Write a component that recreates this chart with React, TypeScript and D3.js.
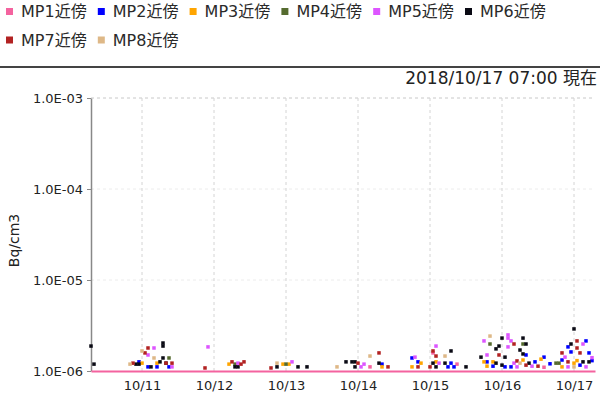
//@ts-nocheck
import React, { useRef, useEffect } from 'react'
import * as d3 from 'd3'

const seriesNames = ['MP1近傍', 'MP2近傍', 'MP3近傍', 'MP4近傍', 'MP5近傍', 'MP6近傍', 'MP7近傍', 'MP8近傍']
const seriesColors = ['#f4639f', '#0000ff', '#ffa500', '#556b2f', '#dd55ff', '#0a0a14', '#b22222', '#deb887']

const mp1 = [
  ['10/14 04:00', 1.11e-6], ['10/15 01:00', 1.58e-6], ['10/15 09:00', 1.19e-6], ['10/16 14:00', 1.1e-6]
]
const mp2 = [
  ['10/10 23:00', 1.26e-6], ['10/11 02:00', 1.11e-6], ['10/11 05:00', 1.11e-6], ['10/11 09:00', 1.11e-6],
  ['10/14 08:00', 1.19e-6], ['10/14 18:00', 1.39e-6], ['10/14 20:00', 1.26e-6], ['10/15 06:00', 1.11e-6],
  ['10/15 07:00', 1.22e-6], ['10/15 08:00', 1.11e-6], ['10/15 19:00', 1.26e-6], ['10/15 21:00', 1.13e-6],
  ['10/16 01:00', 1.11e-6], ['10/16 03:00', 1.11e-6], ['10/16 08:00', 1.5e-6], ['10/16 11:00', 1.26e-6],
  ['10/16 14:00', 1.42e-6], ['10/16 16:00', 1.2e-6], ['10/16 20:00', 1.32e-6], ['10/16 22:00', 1.84e-6],
  ['10/16 23:00', 1.62e-6], ['10/17 02:00', 1.16e-6], ['10/17 04:00', 2.14e-6], ['10/17 05:00', 1.58e-6],
  ['10/17 06:00', 1.3e-6]
]
const mp3 = [
  ['10/11 00:00', 1.22e-6], ['10/11 05:00', 1.22e-6], ['10/12 05:00', 1.19e-6], ['10/12 23:00', 1.19e-6],
  ['10/13 01:00', 1.19e-6], ['10/14 08:00', 1.11e-6], ['10/14 18:00', 1.11e-6], ['10/14 21:00', 1.22e-6],
  ['10/15 02:00', 1.26e-6], ['10/15 18:00', 1.26e-6], ['10/15 19:00', 1.13e-6], ['10/15 21:00', 1.26e-6],
  ['10/16 07:00', 1.32e-6], ['10/16 13:00', 1.35e-6], ['10/16 20:00', 1.11e-6], ['10/17 00:00', 1.22e-6],
  ['10/17 01:00', 1.3e-6]
]
const mp4 = [
  ['10/11 09:00', 1.39e-6], ['10/12 07:00', 1.19e-6], ['10/13 00:00', 1.19e-6], ['10/15 20:00', 1.98e-6],
  ['10/16 07:00', 1.98e-6], ['10/16 18:00', 1.22e-6], ['10/16 19:00', 1.22e-6]
]
const mp5 = [
  ['10/11 02:00', 1.5e-6], ['10/11 04:00', 1.79e-6], ['10/11 10:00', 1.11e-6], ['10/11 22:00', 1.84e-6],
  ['10/12 08:00', 1.22e-6], ['10/13 02:00', 1.26e-6], ['10/14 01:00', 1.11e-6], ['10/14 02:00', 1.19e-6],
  ['10/14 19:00', 1.42e-6], ['10/15 02:00', 1.88e-6], ['10/15 03:00', 1.22e-6], ['10/15 18:00', 2.14e-6],
  ['10/15 19:00', 1.5e-6], ['10/16 02:00', 2.49e-6], ['10/16 02:00', 2.3e-6], ['10/16 03:00', 2.14e-6],
  ['10/16 02:00', 1.84e-6], ['10/16 04:00', 1.22e-6], ['10/16 05:00', 1.11e-6], ['10/16 10:00', 1.13e-6],
  ['10/16 21:00', 1.42e-6], ['10/16 22:00', 1.11e-6], ['10/17 03:00', 1.98e-6], ['10/17 04:00', 1.11e-6],
  ['10/17 06:00', 1.4e-6]
]
const mp6 = [
  ['10/10 07:00', 1.88e-6], ['10/10 08:00', 1.19e-6], ['10/10 22:00', 1.19e-6], ['10/10 23:00', 1.19e-6],
  ['10/11 03:00', 1.11e-6], ['10/11 06:00', 1.26e-6], ['10/11 07:00', 1.39e-6], ['10/11 07:00', 2.03e-6],
  ['10/11 07:00', 1.88e-6], ['10/11 08:00', 1.22e-6], ['10/12 07:00', 1.11e-6], ['10/12 08:00', 1.11e-6],
  ['10/12 21:00', 1.11e-6], ['10/13 04:00', 1.11e-6], ['10/13 07:00', 1.11e-6], ['10/13 20:00', 1.26e-6],
  ['10/13 22:00', 1.26e-6], ['10/13 23:00', 1.26e-6], ['10/13 23:00', 1.11e-6], ['10/14 07:00', 1.22e-6],
  ['10/15 01:00', 1.22e-6], ['10/15 02:00', 1.11e-6], ['10/15 05:00', 1.22e-6], ['10/15 07:00', 1.66e-6],
  ['10/15 12:00', 1.11e-6], ['10/15 17:00', 1.42e-6], ['10/15 22:00', 1.75e-6], ['10/15 22:00', 1.22e-6],
  ['10/15 23:00', 1.88e-6], ['10/16 00:00', 2.3e-6], ['10/16 00:00', 1.16e-6], ['10/16 01:00', 1.42e-6],
  ['10/16 06:00', 1.7e-6], ['10/16 07:00', 1.54e-6], ['10/16 07:00', 2.3e-6], ['10/16 08:00', 1.98e-6],
  ['10/16 09:00', 1.22e-6], ['10/16 23:00', 1.98e-6], ['10/17 00:00', 2.9e-6], ['10/17 03:00', 1.26e-6],
  ['10/17 05:00', 1.26e-6]
]
const mp7 = [
  ['10/10 21:00', 1.22e-6], ['10/11 01:00', 1.58e-6], ['10/11 02:00', 1.79e-6], ['10/11 08:00', 1.22e-6],
  ['10/11 10:00', 1.22e-6], ['10/11 21:00', 1.08e-6], ['10/12 06:00', 1.26e-6], ['10/12 09:00', 1.19e-6],
  ['10/12 10:00', 1.26e-6], ['10/12 19:00', 1.08e-6], ['10/14 00:00', 1.22e-6], ['10/14 07:00', 1.58e-6],
  ['10/14 10:00', 1.11e-6], ['10/14 20:00', 1.11e-6], ['10/15 00:00', 1.11e-6], ['10/15 01:00', 1.66e-6],
  ['10/15 02:00', 1.46e-6], ['10/15 23:00', 1.5e-6], ['10/16 04:00', 1.98e-6], ['10/16 05:00', 1.29e-6],
  ['10/16 08:00', 1.16e-6], ['10/16 12:00', 1.13e-6], ['10/16 20:00', 1.58e-6], ['10/16 22:00', 1.26e-6],
  ['10/17 01:00', 2.14e-6], ['10/17 01:00', 1.79e-6], ['10/17 02:00', 1.58e-6]
]
const mp8 = [
  ['10/10 20:00', 1.19e-6], ['10/11 00:00', 1.66e-6], ['10/11 04:00', 1.39e-6], ['10/12 21:00', 1.22e-6],
  ['10/13 17:00', 1.11e-6], ['10/14 04:00', 1.46e-6], ['10/15 05:00', 1.46e-6], ['10/15 20:00', 2.42e-6],
  ['10/16 06:00', 1.22e-6], ['10/17 00:00', 1.11e-6]
]
const seriesData = [mp1, mp2, mp3, mp4, mp5, mp6, mp7, mp8]

const timeRange = ['10/10 07:00', '10/17 07:00']
const xTickDates = ['10/11 00:00', '10/12 00:00', '10/13 00:00', '10/14 00:00', '10/15 00:00', '10/16 00:00', '10/17 00:00']
const yTickValues = [1e-6, 1e-5, 1e-4, 1e-3]
const yTickLabels = ['1.0E-06', '1.0E-05', '1.0E-04', '1.0E-03']
const stampText = '2018/10/17 07:00 現在'
const yTitle = 'Bq/cm3'

const parse = d3.timeParse('%Y/%m/%d %H:%M')
const toDate = (s) => parse('2018/' + s)

const FONT = "'DejaVu Sans', 'Noto Sans CJK JP', sans-serif"

const App = () => {
  const node = useRef(null)
  const width = 600
  const height = 396

  useEffect(() => {
    const svg = d3.select(node.current)
    svg.selectAll('*').remove()
    svg.attr('width', width).attr('height', height).attr('font-family', FONT)

    const margin = { top: 98, right: 5, bottom: 25, left: 91 }

    const x = d3
      .scaleTime()
      .domain(timeRange.map(toDate))
      .range([margin.left, width - margin.right])

    const y = d3
      .scaleLog()
      .domain([1e-6, 1e-3])
      .range([height - margin.bottom, margin.top])

    // legend
    const legend = svg.append('g')
    seriesNames.forEach((name, i) => {
      const row = Math.floor(i / 6)
      const col = i % 6
      const g = legend.append('g').attr('transform', `translate(${6 + col * 91.8},${11.5 + row * 28.5})`)
      g.append('rect').attr('x', 0).attr('y', -3.5).attr('width', 7).attr('height', 7).attr('fill', seriesColors[i])
      g.append('text')
        .attr('x', 15)
        .attr('dy', '0.36em')
        .attr('font-size', 16)
        .attr('fill', '#2a2a2a')
        .text(name)
    })

    svg
      .append('line')
      .attr('x1', 0)
      .attr('x2', width)
      .attr('y1', 67)
      .attr('y2', 67)
      .attr('stroke', '#444')
      .attr('stroke-width', 2)

    svg
      .append('text')
      .attr('x', width - 3)
      .attr('y', 84)
      .attr('text-anchor', 'end')
      .attr('font-size', 17)
      .attr('fill', '#222')
      .text(stampText)

    // grid
    svg
      .append('g')
      .selectAll('line')
      .data(yTickValues.slice(1))
      .join('line')
      .attr('x1', margin.left)
      .attr('x2', width - margin.right)
      .attr('y1', (d) => y(d))
      .attr('y2', (d) => y(d))
      .attr('stroke', (d) => (d === 1e-3 ? '#c8c8c8' : '#ececec'))
      .attr('stroke-dasharray', '3,3')

    svg
      .append('g')
      .selectAll('line')
      .data(xTickDates.map(toDate))
      .join('line')
      .attr('x1', (d) => x(d))
      .attr('x2', (d) => x(d))
      .attr('y1', margin.top)
      .attr('y2', height - margin.bottom)
      .attr('stroke', '#d4d4d4')
      .attr('stroke-dasharray', '3,3')

    // y axis
    const yAxis = svg
      .append('g')
      .attr('transform', `translate(${margin.left},0)`)
      .call(
        d3
          .axisLeft(y)
          .tickValues(yTickValues)
          .tickFormat((d, i) => yTickLabels[i])
          .tickSize(4)
          .tickSizeOuter(0)
      )
    yAxis.select('.domain').attr('stroke', '#888').attr('stroke-width', 1.5)
    yAxis.selectAll('.tick line').attr('stroke', '#888')
    yAxis.selectAll('.tick text').attr('font-size', 13).attr('font-family', FONT).attr('fill', '#222').attr('x', -8)

    svg
      .append('text')
      .attr('transform', `translate(19,${(margin.top + height - margin.bottom) / 2 + 6}) rotate(-90)`)
      .attr('text-anchor', 'middle')
      .attr('font-size', 14)
      .attr('fill', '#222')
      .text(yTitle)

    // points
    seriesData.forEach((data, i) => {
      svg
        .append('g')
        .selectAll('rect')
        .data(data)
        .join('rect')
        .attr('x', (d) => x(toDate(d[0])) - 1.75)
        .attr('y', (d) => y(d[1]) - 1.75)
        .attr('width', 3.5)
        .attr('height', 3.5)
        .attr('fill', seriesColors[i])
    })

    // x axis
    const xAxis = svg
      .append('g')
      .attr('transform', `translate(0,${height - margin.bottom})`)
      .call(
        d3
          .axisBottom(x)
          .tickValues(xTickDates.map(toDate))
          .tickFormat(d3.timeFormat('%m/%d'))
          .tickSize(0)
          .tickSizeOuter(0)
      )
    xAxis.select('.domain').attr('stroke', '#f4639f').attr('stroke-width', 2)
    xAxis.selectAll('.tick text').attr('font-size', 13).attr('font-family', FONT).attr('fill', '#222').attr('dy', '1.25em')
  }, [])

  return (
    <svg ref={node} style={{ position: 'absolute', left: 0, top: 0, display: 'block' }}></svg>
  )
}

export default App
